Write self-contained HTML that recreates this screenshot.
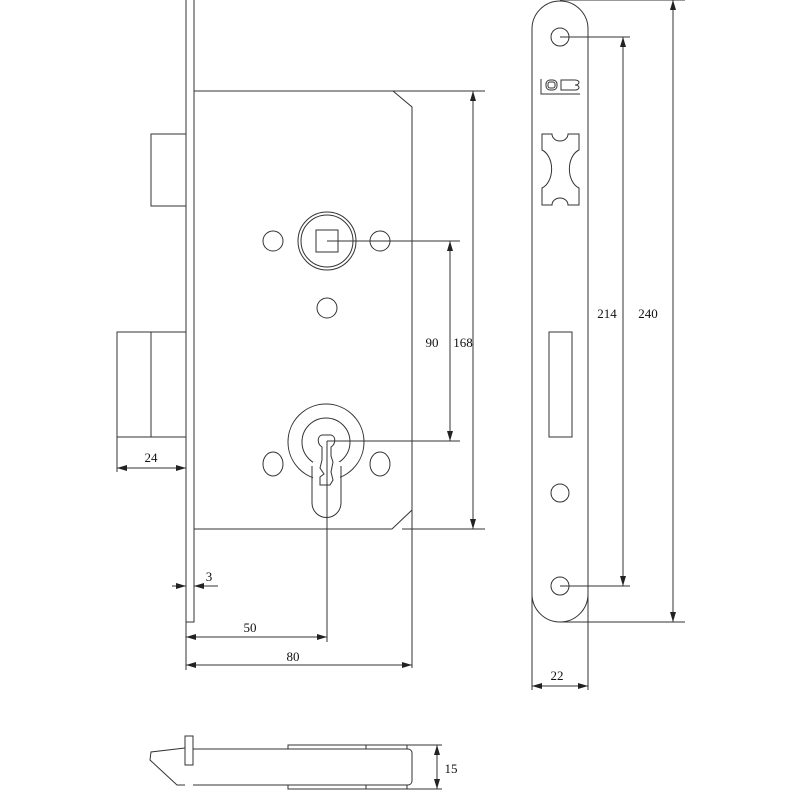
<!DOCTYPE html>
<html><head><meta charset="utf-8"><style>
html,body{margin:0;padding:0;background:#fff;}
svg{display:block;}
text{font-family:"Liberation Serif",serif;font-size:13px;fill:#111;}
</style></head><body>
<svg width="800" height="800" viewBox="0 0 800 800" xmlns="http://www.w3.org/2000/svg">
<defs>
<marker id="a" viewBox="0 0 10 6" refX="10" refY="3" markerWidth="10" markerHeight="6" markerUnits="userSpaceOnUse" orient="auto-start-reverse"><path d="M0,0 L10,3 L0,6 Z" fill="#222"/></marker>
</defs>
<g fill="none" stroke="#333" stroke-width="1">
<path d="M186,0 L186,622 L194,622 L194,0"/>
<path d="M194,91 L393,91 L412,107 L412,668"/>
<path d="M194,529 L392,529 L412,510"/>
<line x1="393" y1="91" x2="485" y2="91"/>
<line x1="402" y1="529" x2="485" y2="529"/>
<rect x="151" y="134" width="35" height="72"/>
<rect x="117" y="332" width="69" height="105"/>
<line x1="151" y1="332" x2="151" y2="437"/>
<line x1="117" y1="437" x2="117" y2="472"/>
<line x1="186" y1="437" x2="186" y2="472"/>
<line x1="117" y1="468" x2="186" y2="468" marker-start="url(#a)" marker-end="url(#a)"/>
<circle cx="327" cy="241" r="29"/>
<circle cx="327" cy="241" r="26"/>
<rect x="316" y="230" width="22" height="22"/>
<circle cx="273" cy="241" r="10"/>
<circle cx="380" cy="241" r="10"/>
<circle cx="327" cy="308" r="10"/>
<line x1="327" y1="241" x2="460" y2="241"/>
<circle cx="326" cy="442" r="38"/>
<circle cx="326" cy="442" r="24"/>
<rect x="313" y="462" width="27" height="24" fill="#fff" stroke="none"/>
<path d="M312,466 L312,503 A14.5,14.5 0 0 0 341,503 L341,466"/>
<path d="M322,447 C317,444 317,436 322,435 L331,435 C336,436 336,444 331,447 L331,456 L333,462 L331,472 L333,480 L330,485 L320,485 L320,477 L324,474 L320,468 L322,460 Z"/>
<ellipse cx="273" cy="464" rx="10" ry="12"/>
<ellipse cx="380" cy="464" rx="10" ry="12"/>
<line x1="327" y1="441" x2="460" y2="441"/>
<line x1="327" y1="441" x2="327" y2="642"/>
<line x1="450" y1="241" x2="450" y2="441" marker-start="url(#a)" marker-end="url(#a)"/>
<line x1="473" y1="91" x2="473" y2="529" marker-start="url(#a)" marker-end="url(#a)"/>
<line x1="186" y1="622" x2="186" y2="670"/>
<line x1="186" y1="637" x2="327" y2="637" marker-start="url(#a)" marker-end="url(#a)"/>
<line x1="186" y1="665" x2="412" y2="665" marker-start="url(#a)" marker-end="url(#a)"/>
<line x1="172" y1="586" x2="186" y2="586" marker-end="url(#a)"/>
<line x1="218" y1="586" x2="194" y2="586" marker-end="url(#a)"/>
<path d="M532,622 L532,29 A28,28 0 0 1 588,29 L588,690"/>
<path d="M532,594 A28,28 0 0 0 588,594"/>
<line x1="532" y1="594" x2="532" y2="690"/>
<line x1="560" y1="0" x2="685" y2="0"/>
<line x1="560" y1="622" x2="685" y2="622"/>
<circle cx="560" cy="37" r="9"/>
<circle cx="560" cy="586" r="9"/>
<circle cx="560" cy="493" r="9"/>
<line x1="560" y1="37" x2="630" y2="37"/>
<line x1="560" y1="586" x2="630" y2="586"/>
<rect x="549" y="332" width="23" height="105"/>
<path d="M542,134 L552,134 A8,7 0 0 0 568,134 L579,134 L579,150 A14,20 0 0 0 579,188 L579,205 L568,205 A8,7 0 0 0 552,205 L542,205 L542,188 A14,20 0 0 0 542,150 Z"/>
<line x1="623" y1="37" x2="623" y2="586" marker-start="url(#a)" marker-end="url(#a)"/>
<line x1="673" y1="0" x2="673" y2="622" marker-start="url(#a)" marker-end="url(#a)"/>
<line x1="532" y1="686" x2="588" y2="686" marker-start="url(#a)" marker-end="url(#a)"/>
<path d="M541,79 L541,94 L580,94"/>
<rect x="546" y="80" width="11" height="10" rx="4"/>
<rect x="548" y="82" width="7" height="6" rx="2"/>
<path d="M561,80 L575,80 A4,2.5 0 0 1 575,85 A4,2.5 0 0 1 575,90 L561,90 Z"/>
<rect x="185" y="736" width="8" height="29"/>
<path d="M185,748 L151,752 L150,760 L177,785 L185,785"/>
<path d="M193,749 L408,749 A4,4 0 0 1 412,753 L412,781 A4,4 0 0 1 408,785 L193,785"/>
<path d="M288,749 L288,745 L407,745 L407,749"/>
<path d="M288,785 L288,789 L407,789 L407,785"/>
<line x1="366" y1="745" x2="366" y2="749"/>
<line x1="366" y1="785" x2="366" y2="789"/>
<line x1="407" y1="745" x2="442" y2="745"/>
<line x1="407" y1="789" x2="442" y2="789"/>
<line x1="437" y1="745" x2="437" y2="789" marker-start="url(#a)" marker-end="url(#a)"/>
</g>
<text x="151" y="462" text-anchor="middle">24</text>
<text x="432" y="347" text-anchor="middle">90</text>
<text x="463" y="347" text-anchor="middle">168</text>
<text x="209" y="581" text-anchor="middle">3</text>
<text x="250" y="632" text-anchor="middle">50</text>
<text x="293" y="661" text-anchor="middle">80</text>
<text x="607" y="318" text-anchor="middle">214</text>
<text x="648" y="318" text-anchor="middle">240</text>
<text x="557" y="680" text-anchor="middle">22</text>
<text x="451" y="773" text-anchor="middle">15</text>
</svg>
</body></html>
